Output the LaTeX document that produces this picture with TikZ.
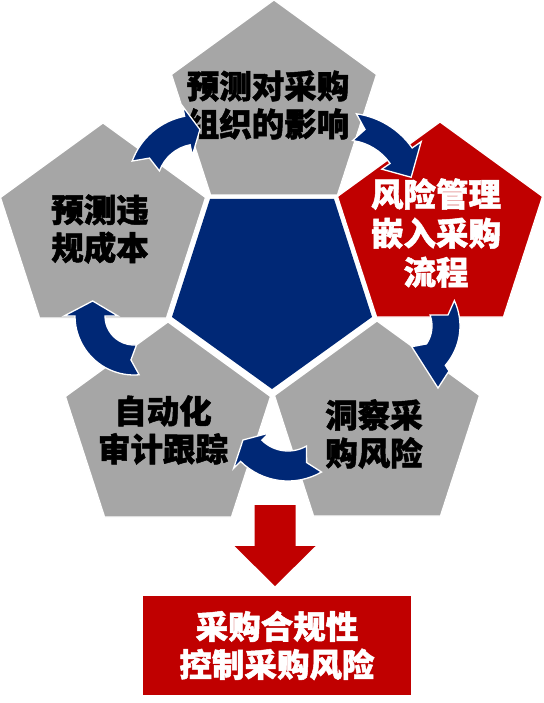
\documentclass[tikz,border=0pt]{standalone}
\usepackage{fontspec}
\newfontfamily\cjk{Noto Sans CJK SC}[BoldFeatures={FakeBold=1.5}]
\definecolor{pgray}{RGB}{166,166,166}
\definecolor{navy}{RGB}{0,40,118}
\definecolor{dred}{RGB}{192,0,0}
\tikzset{
  pent/.style={draw=white, line width=1.2pt, line join=miter},
  cur/.style={fill=navy, draw=white, line width=1.3pt, line join=miter},
  lbl/.style={align=center, font=\cjk\bfseries\fontsize{32.5}{38}\selectfont, text=black, inner sep=0pt},
  bigarrow/.style={fill=dred},
}
% upright pentagon: apex x, apex y, fill colour
\newcommand\pent[3]{\filldraw[pent, fill=#3] (#1,#2) -- ++(102.5,74.5) -- ++(-39.1,120.5) -- ++(-126.8,0) -- ++(-39.1,-120.5) -- cycle;}
% curved block arrow: cx, cy, r in, r out, tail angle, head base angle, tip angle, inner barb r, outer barb r
\newcommand\curvarrow[9]{%
  \pgfmathsetmacro\rmid{(#3+#4)/2}%
  \pgfmathsetmacro\notch{#5+9}%
  \filldraw[cur] ([shift={(#1,#2)}]#5:#4) arc[start angle=#5, end angle=#6, radius=#4]
    -- ([shift={(#1,#2)}]#6:#9) -- ([shift={(#1,#2)}]#7:\rmid) -- ([shift={(#1,#2)}]#6:#8)
    -- ([shift={(#1,#2)}]#6:#3) arc[start angle=#6, end angle=#5, radius=#3]
    -- ([shift={(#1,#2)}]\notch:\rmid) -- cycle;}
\begin{document}
\begin{tikzpicture}[x=1pt,y=-1pt]
\useasboundingbox (0,0) rectangle (543,703);
% outer pentagons
\pent{274}{0}{pgray}
\pent{103}{123}{pgray}
\pent{440}{122}{dred}
\pent{168}{322}{pgray}
\pent{377}{321}{pgray}
% centre pentagon
\fill[navy] (210,199) -- (334,199) -- (372,317) -- (272,389) -- (172,317) -- cycle;
% labels
\node[lbl] (t1) at (268,105) {预测对采购\\组织的影响};
\node[lbl] (t2) at (100,229) {预测违\\规成本};
\node[lbl, text=white, font=\cjk\bfseries\fontsize{32.5}{39}\selectfont] (t3) at (436,233) {风险管理\\嵌入采购\\流程};
\node[lbl] (t4) at (374,434) {洞察采\\购风险};
\node[lbl] (t5) at (163,430) {自动化\\审计跟踪};
% curved arrows
\curvarrow{198}{185}{41}{70}{200}{259}{272}{30}{80}
\curvarrow{345}{195}{55}{82}{278}{325}{345}{45}{93}
\filldraw[cur] ([shift={(400,326)}]-25:60) arc[start angle=-25, end angle=41, radius=60]
  -- (449,371) -- (438,388) -- (411.7,346.7) -- ([shift={(400,326)}]34:32)
  arc[start angle=34, end angle=-20, radius=32] -- (448,315) -- cycle;
\curvarrow{288}{414}{37}{67}{60}{135}{150}{27}{77}
\curvarrow{134}{316}{29}{59}{85}{180}{200}{16}{70}
% big arrow and result
\fill[bigarrow] (254.5,505) -- (295.5,505) -- (295.5,546) -- (315.5,546) -- (275,586) -- (234.5,546) -- (254.5,546) -- cycle;
\node[lbl, fill=dred, text=white, minimum width=268pt, minimum height=99pt] (result) at (277,645.5) {采购合规性\\控制采购风险};
\end{tikzpicture}
\end{document}
